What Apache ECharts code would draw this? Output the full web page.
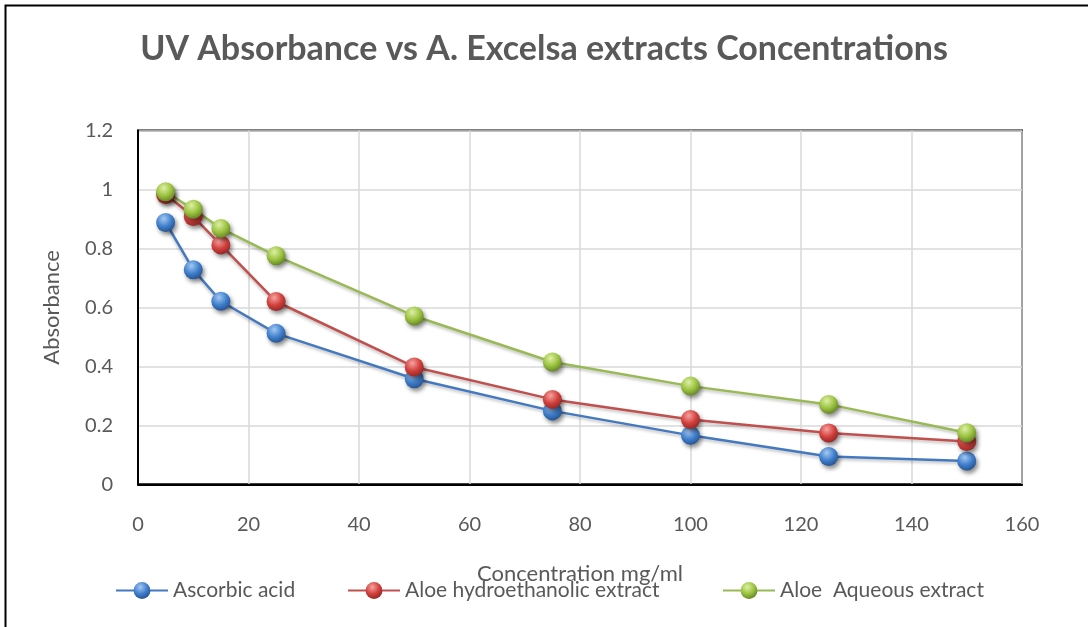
<!DOCTYPE html>
<html>
<head>
<meta charset="utf-8">
<script src="https://cdn.jsdelivr.net/npm/echarts@6/dist/echarts.min.js"></script>
<style>
html,body{margin:0;padding:0;background:#fff;}
#c{width:1088px;height:627px;}
</style>
</head>
<body>
<div id="c"></div>
<script>
const titleText = 'UV Absorbance vs A. Excelsa extracts Concentrations';
const xName = 'Concentration mg/ml';
const yName = 'Absorbance';
const concentrations = [5, 10, 15, 25, 50, 75, 100, 125, 150];
const seriesNames = ['Ascorbic acid', 'Aloe hydroethanolic extract', 'Aloe  Aqueous extract'];
const ascorbic = [0.888, 0.728, 0.621, 0.512, 0.358, 0.249, 0.166, 0.094, 0.079];
const hydroethanolic = [0.983, 0.908, 0.812, 0.620, 0.398, 0.288, 0.220, 0.174, 0.145];
const aqueous = [0.992, 0.933, 0.868, 0.775, 0.571, 0.415, 0.333, 0.271, 0.175];

const lineColors = ['#4479C0', '#C0504D', '#98B954'];
const ballStops = [
  ['#A3C8F2', '#3F7FCC', '#234F8C'],
  ['#F5A3A1', '#D2403C', '#8E2523'],
  ['#DDF0A4', '#9BC23F', '#5F7F22']
];
function ball(i){
  return {
    type:'radial', x:0.4, y:0.3, r:0.75,
    colorStops:[
      {offset:0, color:ballStops[i][0]},
      {offset:0.55, color:ballStops[i][1]},
      {offset:1, color:ballStops[i][2]}
    ]
  };
}
const values = [ascorbic, hydroethanolic, aqueous];
const font = 'Lato, "Open Sans", sans-serif';
const chart = echarts.init(document.getElementById('c'));
const series = values.map((v, i) => ({
  name: seriesNames[i],
  type: 'line',
  data: concentrations.map((c, k) => [c, v[k]]),
  symbol: 'circle',
  symbolSize: 19,
  lineStyle: {color: lineColors[i], width: 2.5, shadowColor:'rgba(0,0,0,0.25)', shadowBlur:3, shadowOffsetY:2},
  itemStyle: {color: ball(i), shadowColor:'rgba(0,0,0,0.45)', shadowBlur:4, shadowOffsetX:2, shadowOffsetY:3},
  emphasis: {disabled: true},
  animation: false
}));
const legendLefts = [115, 347, 722];
chart.setOption({
  animation: false,
  graphic: [{
    type:'rect', left:3, top:3, shape:{x:0, y:0, width:1200, height:800},
    style:{fill:'none', stroke:'#000', lineWidth:2}, silent:true
  }],
  title: {
    text: titleText, left: 'center', top: 27,
    textStyle: {fontFamily: font, fontWeight: 'bold', fontSize: 34, color: '#595959'}
  },
  legend: legendLefts.map((l, i) => ({
    data: [seriesNames[i]], left: l, top: 580, padding: 0,
    itemWidth: 52, itemHeight: 21, itemGap: 0,
    textStyle: {fontFamily: font, fontSize: 21, color: '#595959'}
  })),
  grid: {left: 138, right: 66, top: 130.5, bottom: 142.7, show: true, borderColor: '#000', borderWidth: 2, containLabel: false},
  xAxis: {
    type: 'value', min: 0, max: 160, interval: 20,
    name: xName, nameLocation: 'middle', nameGap: 79,
    nameTextStyle: {fontFamily: font, fontSize: 22, color: '#595959'},
    axisLine: {show: true, lineStyle: {color: '#000', width: 2}},
    axisTick: {show: false},
    axisLabel: {fontFamily: font, fontSize: 20, color: '#595959', margin: 30},
    splitLine: {show: true, lineStyle: {color: '#D9D9D9', width: 1.5}}
  },
  yAxis: {
    type: 'value', min: 0, max: 1.2, interval: 0.2,
    name: yName, nameLocation: 'middle', nameGap: 75,
    nameTextStyle: {fontFamily: font, fontSize: 22, color: '#595959'},
    axisLine: {show: true, lineStyle: {color: '#000', width: 2}},
    axisTick: {show: false},
    axisLabel: {fontFamily: font, fontSize: 20, color: '#595959', margin: 25},
    splitLine: {show: true, lineStyle: {color: '#D9D9D9', width: 1.5}}
  },
  series: series
});
</script>
</body>
</html>
